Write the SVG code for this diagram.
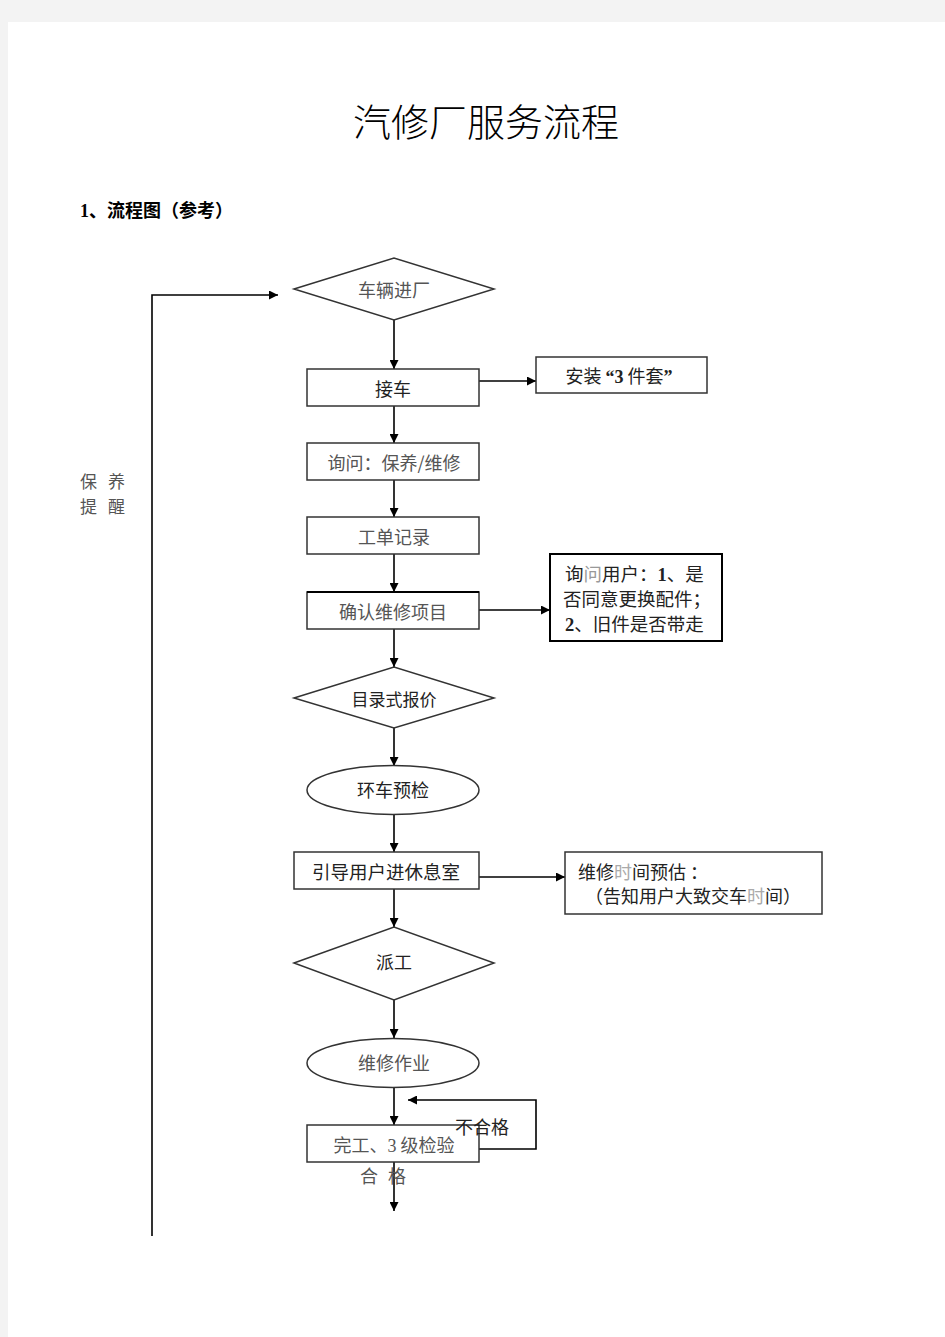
<svg xmlns="http://www.w3.org/2000/svg" width="945" height="1337" viewBox="0 0 945 1337">
<style>
.shape{fill:#fff;stroke:#333;stroke-width:1.5}
.bold{fill:#fff;stroke:#000;stroke-width:2}
.con{fill:none;stroke:#000;stroke-width:1.6}
.t{font-family:"Noto Sans CJK SC","Noto Sans",sans-serif;font-size:18px;fill:#222;text-anchor:middle}
.g{fill:#555}
.l{text-anchor:start}
</style>
<defs>
<marker id="ah" viewBox="0 0 10 10" refX="10" refY="5" markerWidth="10" markerHeight="9" markerUnits="userSpaceOnUse" orient="auto">
<path d="M0,0 L10,5 L0,10 z" fill="#000"/>
</marker>
</defs>
<rect x="0" y="0" width="945" height="1337" fill="#f3f3f3"/>
<rect x="8" y="22" width="937" height="1315" fill="#fff"/>
<text x="486" y="136" style="font-family:'Liberation Serif','Noto Sans CJK SC',serif;font-size:38px;fill:#000;text-anchor:middle;font-weight:300">汽修厂服务流程</text>
<text x="80" y="217" style="font-family:'Liberation Serif','Noto Sans CJK SC',serif;font-size:18px;font-weight:bold;fill:#000">1、流程图（参考）</text>
<g id="reminder">
<text class="t g l" x="80" y="488" style="font-size:17px">保<tspan x="108">养</tspan></text>
<text class="t g l" x="80" y="513" style="font-size:17px">提<tspan x="108">醒</tspan></text>
</g>
<g id="connectors">
<polyline class="con" points="152,1236 152,295 278,295" marker-end="url(#ah)"/>
<line class="con" x1="394" y1="320" x2="394" y2="369" marker-end="url(#ah)"/>
<line class="con" x1="479" y1="381" x2="536" y2="381" marker-end="url(#ah)"/>
<line class="con" x1="394" y1="406" x2="394" y2="443" marker-end="url(#ah)"/>
<line class="con" x1="394" y1="480" x2="394" y2="517" marker-end="url(#ah)"/>
<line class="con" x1="394" y1="554" x2="394" y2="592" marker-end="url(#ah)"/>
<line class="con" x1="479" y1="610" x2="550" y2="610" marker-end="url(#ah)"/>
<line class="con" x1="394" y1="629" x2="394" y2="667" marker-end="url(#ah)"/>
<line class="con" x1="394" y1="728" x2="394" y2="766" marker-end="url(#ah)"/>
<line class="con" x1="394" y1="815" x2="394" y2="852" marker-end="url(#ah)"/>
<line class="con" x1="479" y1="877" x2="565" y2="877" marker-end="url(#ah)"/>
<line class="con" x1="394" y1="889" x2="394" y2="927" marker-end="url(#ah)"/>
<line class="con" x1="394" y1="1000" x2="394" y2="1038" marker-end="url(#ah)"/>
<line class="con" x1="394" y1="1087" x2="394" y2="1125" marker-end="url(#ah)"/>
<polyline class="con" points="479,1149 536,1149 536,1100 408,1100" marker-end="url(#ah)"/>
<line class="con" x1="394" y1="1162" x2="394" y2="1211" marker-end="url(#ah)"/>
</g>
<g id="n1"><polygon class="shape" points="294,289 394,258 494,289 394,320"/><text class="t g" x="394" y="297">车辆进厂</text></g>
<g id="n2"><rect class="shape" x="307" y="369" width="172" height="37"/><text class="t" x="393" y="396">接车</text></g>
<g id="n3"><rect class="shape" x="536" y="357" width="171" height="36"/><text class="t" x="619" y="383">安装 <tspan style="font-family:'Liberation Serif',serif;font-weight:bold">“3</tspan> 件套<tspan style="font-family:'Liberation Serif',serif;font-weight:bold">”</tspan></text></g>
<g id="n4"><rect class="shape" x="307" y="443" width="172" height="37"/><text class="t g" x="394" y="470">询问：保养/维修</text></g>
<g id="n5"><rect class="shape" x="307" y="517" width="172" height="37"/><text class="t g" x="394" y="544">工单记录</text></g>
<g id="n6"><rect class="shape" x="307" y="592" width="172" height="37"/><line x1="307" y1="592" x2="479" y2="592" stroke="#000" stroke-width="2"/><text class="t g" x="393" y="619">确认维修项目</text></g>
<g id="n7"><rect class="bold" x="550" y="554" width="172" height="87"/>
<text class="t l" x="565" y="581" style="font-size:18.5px">询<tspan fill="#999">问</tspan>用户：<tspan style="font-family:'Liberation Serif',serif;font-weight:bold">1</tspan>、是</text>
<text class="t l" x="563" y="606" style="font-size:18.5px">否同意更换配件；</text>
<text class="t l" x="565" y="631" style="font-size:18.5px"><tspan style="font-family:'Liberation Serif',serif;font-weight:bold">2</tspan>、旧件是否带走</text></g>
<g id="n8"><polygon class="shape" points="294,698 394,667 494,698 394,728"/><text class="t" x="394" y="706" style="font-size:17px">目录式报价</text></g>
<g id="n9"><ellipse class="shape" cx="393" cy="790" rx="86" ry="24.5"/><text class="t" x="393" y="797">环车预检</text></g>
<g id="n10"><rect class="shape" x="294" y="852" width="185" height="37"/><text class="t" x="386" y="879" style="font-size:18.5px">引导用户进休息室</text></g>
<g id="n11"><rect class="shape" x="565" y="852" width="257" height="62"/>
<text class="t l" x="578" y="879">维修<tspan fill="#aaa">时</tspan>间预估 ：</text>
<text class="t l" x="585" y="903">（告知用户大致交车<tspan fill="#aaa">时</tspan>间）</text></g>
<g id="n12"><polygon class="shape" points="294,963 394,927 494,963 394,1000"/><text class="t" x="394" y="969">派工</text></g>
<g id="n13"><ellipse class="shape" cx="393" cy="1063" rx="86" ry="24.5"/><text class="t g" x="394" y="1070">维修作业</text></g>
<g id="n14"><rect class="shape" x="307" y="1125" width="172" height="37"/><text class="t g" x="394" y="1152">完工、<tspan style="font-family:'Liberation Serif',serif">3</tspan> 级检验</text></g>
<text class="t" x="482" y="1134">不合格</text>
<text class="t g" x="360" y="1183" style="text-anchor:start">合<tspan x="388">格</tspan></text>
</svg>
